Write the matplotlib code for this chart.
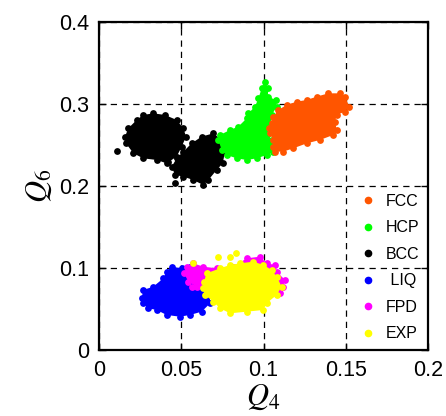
import matplotlib
matplotlib.use("Agg")
import matplotlib.pyplot as plt
from matplotlib.lines import Line2D

plt.rcParams['font.family'] = ['Liberation Sans', 'DejaVu Sans']
plt.rcParams['mathtext.fontset'] = 'stix'

# outline points of each cloud (Q4, Q6), plus a few isolated points
bcc_a_q4 = [0.0330, 0.0401, 0.0472, 0.0513, 0.0529, 0.0503, 0.0472, 0.0411,
            0.0351, 0.0269, 0.0209, 0.0164, 0.0158, 0.0178, 0.0229, 0.0269]
bcc_a_q6 = [0.2886, 0.2866, 0.2805, 0.2703, 0.2602, 0.2480, 0.2358, 0.2276,
            0.2317, 0.2337, 0.2398, 0.2520, 0.2602, 0.2703, 0.2805, 0.2866]
bcc_b_q4 = [0.0695, 0.0746, 0.0766, 0.0752, 0.0715, 0.0665, 0.0634, 0.0573,
            0.0513, 0.0462, 0.0442, 0.0472, 0.0513, 0.0563, 0.0624]
bcc_b_q6 = [0.2642, 0.2561, 0.2419, 0.2276, 0.2195, 0.2073, 0.2012, 0.2073,
            0.2114, 0.2134, 0.2236, 0.2337, 0.2419, 0.2520, 0.2602]
bcc_extra_q4 = [0.0110, 0.0462, 0.0420]
bcc_extra_q6 = [0.2430, 0.2033, 0.2290]

hcp_q4 = [0.1009, 0.1029, 0.1026, 0.1076, 0.1080, 0.1050, 0.1040, 0.1019,
          0.1050, 0.1064, 0.1060, 0.1019, 0.0959, 0.0898, 0.0837, 0.0776,
          0.0746, 0.0725, 0.0736, 0.0796, 0.0847, 0.0898, 0.0908, 0.0948,
          0.0969, 0.0989]
hcp_q6 = [0.3272, 0.3191, 0.3089, 0.3049, 0.2967, 0.2866, 0.2724, 0.2622,
          0.2561, 0.2480, 0.2419, 0.2378, 0.2337, 0.2317, 0.2337, 0.2378,
          0.2439, 0.2561, 0.2622, 0.2683, 0.2724, 0.2825, 0.2886, 0.2967,
          0.3069, 0.3191]

fcc_q4 = [0.1465, 0.1495, 0.1522, 0.1495, 0.1445, 0.1435, 0.1445, 0.1424,
          0.1343, 0.1263, 0.1181, 0.1120, 0.1070, 0.1056, 0.1060, 0.1040,
          0.1036, 0.1050, 0.1060, 0.1090, 0.1141, 0.1201, 0.1263, 0.1323,
          0.1394]
fcc_q6 = [0.3130, 0.3089, 0.2967, 0.2907, 0.2866, 0.2784, 0.2683, 0.2622,
          0.2561, 0.2520, 0.2459, 0.2419, 0.2419, 0.2480, 0.2561, 0.2642,
          0.2703, 0.2764, 0.2845, 0.2927, 0.2988, 0.3028, 0.3049, 0.3089,
          0.3130]

liq_q4 = [0.0442, 0.0503, 0.0553, 0.0614, 0.0644, 0.0675, 0.0675, 0.0624,
          0.0553, 0.0492, 0.0411, 0.0351, 0.0300, 0.0269, 0.0259, 0.0269,
          0.0330, 0.0391, 0.0411]
liq_q6 = [0.1016, 0.0996, 0.1016, 0.0935, 0.0813, 0.0691, 0.0569, 0.0467,
          0.0427, 0.0406, 0.0427, 0.0488, 0.0508, 0.0569, 0.0630, 0.0732,
          0.0772, 0.0874, 0.0955]

fpd_q4 = [0.0533, 0.0573, 0.0634, 0.0715, 0.0817, 0.0898, 0.0979, 0.1019,
          0.1070, 0.1080, 0.1131, 0.1118, 0.1100, 0.1019, 0.0817, 0.0654,
          0.0594, 0.0543, 0.0517]
fpd_q6 = [0.1016, 0.1057, 0.1016, 0.0996, 0.1016, 0.1118, 0.1138, 0.1057,
          0.1037, 0.0955, 0.0854, 0.0772, 0.0691, 0.0732, 0.0732, 0.0732,
          0.0772, 0.0833, 0.0935]
fpd_extra_q4 = [0.0563]
fpd_extra_q6 = [0.0772]

exp_q4 = [0.0654, 0.0736, 0.0796, 0.0857, 0.0938, 0.0999, 0.1050, 0.1080,
          0.1110, 0.1080, 0.1019, 0.0999, 0.0898, 0.0796, 0.0736, 0.0695,
          0.0644, 0.0630, 0.0638]
exp_q6 = [0.0935, 0.0996, 0.1037, 0.1057, 0.1077, 0.1037, 0.0976, 0.0894,
          0.0772, 0.0671, 0.0569, 0.0488, 0.0467, 0.0447, 0.0508, 0.0589,
          0.0671, 0.0752, 0.0833]
exp_extra_q4 = [0.0725, 0.0796, 0.0833, 0.0573]
exp_extra_q6 = [0.1129, 0.1138, 0.1179, 0.1057]

phases = ['FCC', 'HCP', 'BCC', ' LIQ', 'FPD', 'EXP']
colors = ['#ff5500', '#00ff00', '#000000', '#0000ff', '#ff00ff', '#ffff00']

fig = plt.figure(figsize=(4.46, 4.16), dpi=100)
ax = fig.add_axes([0.222, 0.1587, 0.7377, 0.7885])

dot = 24


def cloud(q4, q6, color, extra=None, z=2):
    ax.fill(q4, q6, color=color, lw=0, zorder=z)
    ax.scatter(q4, q6, s=dot, color=color, lw=0, zorder=z)
    if extra is not None:
        ax.scatter(extra[0], extra[1], s=dot, color=color, lw=0, zorder=z)


cloud(bcc_a_q4, bcc_a_q6, colors[2], (bcc_extra_q4, bcc_extra_q6), z=2)
cloud(bcc_b_q4, bcc_b_q6, colors[2], z=2)
cloud(hcp_q4, hcp_q6, colors[1], z=2.1)
cloud(fcc_q4, fcc_q6, colors[0], z=2.2)
cloud(liq_q4, liq_q6, colors[3], z=2)
cloud(fpd_q4, fpd_q6, colors[4], (fpd_extra_q4, fpd_extra_q6), z=2.1)
cloud(exp_q4, exp_q6, colors[5], (exp_extra_q4, exp_extra_q6), z=2.2)

ax.set_xlim(0, 0.2)
ax.set_ylim(0, 0.4)
ax.set_xticks([0, 0.05, 0.1, 0.15, 0.2])
ax.set_xticklabels(['0', '0.05', '0.1', '0.15', '0.2'])
ax.set_yticks([0, 0.1, 0.2, 0.3, 0.4])
ax.set_yticklabels(['0', '0.1', '0.2', '0.3', '0.4'])
ax.tick_params(direction='in', length=5, width=1, labelsize=15.5,
               top=True, right=True, pad=7)
ax.grid(True, color='black', linestyle=(0, (5, 4)), linewidth=0.9)
ax.set_axisbelow(True)
for s in ax.spines.values():
    s.set_linewidth(1.6)

ax.set_xlabel('$Q_4$', fontsize=22, labelpad=1)
ax.set_ylabel('$Q_6$', fontsize=22, labelpad=4)

handles = [Line2D([], [], marker='o', ls='none', color=c, markersize=4.5)
           for c in colors]
ax.legend(handles, phases, loc='lower right', frameon=False, fontsize=11.5,
          labelspacing=0.72, handletextpad=0.5, handlelength=1.2,
          borderaxespad=0.15)

fig.savefig('out.png', dpi=100)
